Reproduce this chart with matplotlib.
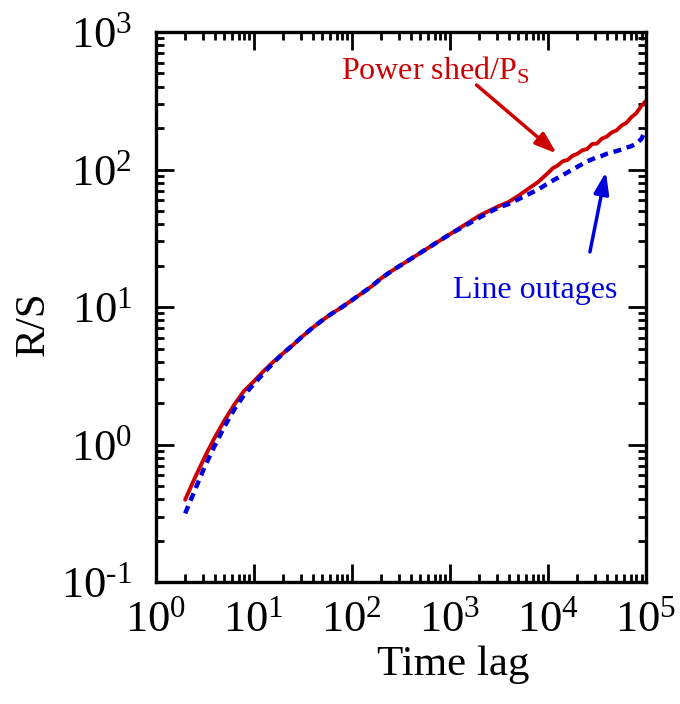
import math
import matplotlib.pyplot as plt
from matplotlib.ticker import LogLocator, FuncFormatter, NullFormatter

plt.rcParams['font.family'] = ['Liberation Serif', 'DejaVu Serif']
plt.rcParams['mathtext.fontset'] = 'custom'
plt.rcParams['mathtext.rm'] = 'Liberation Serif'
plt.rcParams['mathtext.it'] = 'Liberation Serif:italic'

# log10 of time lag and log10 of R/S
log_lag = [0.30, 0.4, 0.5, 0.6, 0.7, 0.8, 0.9, 1.0, 1.1, 1.2, 1.3, 1.4, 1.5,
           1.6, 1.7, 1.8, 1.9, 2.0, 2.1, 2.2, 2.3, 2.4, 2.5, 2.6, 2.7, 2.8,
           2.9, 3.0, 3.1, 3.2, 3.3, 3.4, 3.5, 3.6, 3.7, 3.8, 3.9, 4.0, 4.05,
           4.1, 4.15, 4.2, 4.25, 4.3, 4.35, 4.4, 4.45, 4.5, 4.55, 4.6, 4.65,
           4.7, 4.75, 4.8, 4.85, 4.9, 4.95, 5.0]

log_power = [-0.40, -0.24, -0.09, 0.05, 0.175, 0.29, 0.39, 0.46, 0.535, 0.603,
             0.665, 0.725, 0.79, 0.85, 0.905, 0.955, 1.0, 1.05, 1.10, 1.15,
             1.21, 1.26, 1.305, 1.35, 1.395, 1.44, 1.485, 1.53, 1.575, 1.62,
             1.665, 1.70, 1.735, 1.765, 1.81, 1.86, 1.91, 1.975, 2.01, 2.03,
             2.06, 2.07, 2.10, 2.115, 2.14, 2.15, 2.185, 2.19, 2.225, 2.24,
             2.27, 2.285, 2.32, 2.34, 2.38, 2.41, 2.46, 2.50]

log_lines = [-0.50, -0.33, -0.16, -0.01, 0.13, 0.255, 0.36, 0.44, 0.52, 0.595,
             0.665, 0.725, 0.79, 0.85, 0.905, 0.955, 1.0, 1.05, 1.10, 1.15,
             1.21, 1.26, 1.305, 1.35, 1.395, 1.44, 1.485, 1.53, 1.57, 1.61,
             1.65, 1.69, 1.725, 1.75, 1.785, 1.82, 1.855, 1.90, 1.92, 1.94,
             1.96, 1.98, 2.00, 2.02, 2.04, 2.06, 2.075, 2.09, 2.10, 2.115,
             2.125, 2.135, 2.145, 2.16, 2.17, 2.19, 2.22, 2.29]

lag = [10 ** v for v in log_lag]
power_shed = [10 ** v for v in log_power]
line_outages = [10 ** v for v in log_lines]

red = '#CC0000'
blue = '#0000DD'

fig = plt.figure(figsize=(6.8, 7.04), dpi=100)
ax = fig.add_axes([0.229, 0.173, 0.721, 0.7815])

ax.plot(lag, power_shed, color=red, lw=2.8, solid_capstyle='round')
ax.plot(lag, line_outages, color=blue, lw=3.2, ls=(0, (1.8, 1.3)))

ax.set_xscale('log')
ax.set_yscale('log')
ax.set_xlim(1, 1e5)
ax.set_ylim(0.1, 1000)

def pow_fmt(v, pos):
    e = int(round(math.log10(v)))
    if e < 0:
        return r'$\mathregular{10^{\text{-}%d}}$' % (-e)
    return r'$\mathregular{10^{%d}}$' % e

for a in (ax.xaxis, ax.yaxis):
    a.set_major_locator(LogLocator(base=10, numticks=10))
    a.set_minor_locator(LogLocator(base=10, subs=range(2, 10), numticks=20))
    a.set_major_formatter(FuncFormatter(pow_fmt))
    a.set_minor_formatter(NullFormatter())

ax.tick_params(which='both', direction='in', top=True, right=True, width=2,
               labelsize=32)
ax.tick_params(which='major', length=13)
ax.tick_params(axis='x', which='major', pad=13)
ax.tick_params(axis='y', which='major', pad=17)
ax.tick_params(which='minor', length=6)
for s in ax.spines.values():
    s.set_linewidth(2.4)

ax.set_xlabel('Time lag', fontsize=31, labelpad=4)
ax.xaxis.set_label_coords(0.606, -0.115)
ax.set_ylabel('R/S', fontsize=31)
ax.yaxis.set_label_coords(-0.21, 0.47)

head = '-|>,head_length=1.3,head_width=0.45'
ax.annotate('', xy=(1.23e4, 131), xytext=(1.87e3, 412),
            arrowprops=dict(arrowstyle=head, color=red, lw=2.5,
                            shrinkA=0, shrinkB=0))
ax.annotate('', xy=(3.9e4, 96), xytext=(2.68e4, 25.2),
            arrowprops=dict(arrowstyle=head, color=blue, lw=2.5,
                            shrinkA=0, shrinkB=0))

ax.text(77, 448, r'Power shed/P$_\mathregular{S}$', color=red, fontsize=23,
        ha='left', va='baseline')
ax.text(1072, 11.7, 'Line outages', color=blue, fontsize=23,
        ha='left', va='baseline')

fig.savefig('out.png', dpi=100)
